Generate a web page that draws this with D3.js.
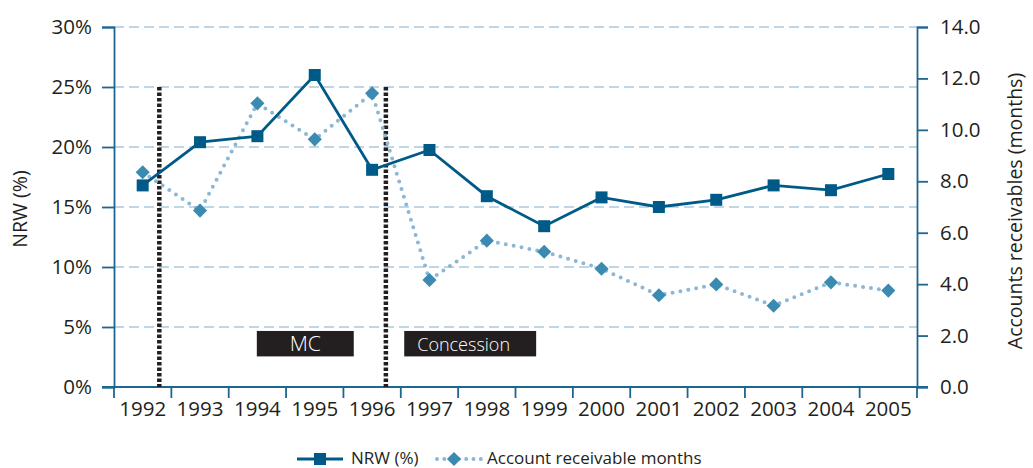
<!DOCTYPE html>
<html><head><meta charset="utf-8">
<script src="https://cdn.jsdelivr.net/npm/d3@7"></script>
<style>body{margin:0;background:#fff}svg{display:block;font-family:"Open Sans",Lato,sans-serif;font-weight:400}</style>
</head><body>
<svg id="c" width="1033" height="468"></svg>
<script>
const years = ["1992","1993","1994","1995","1996","1997","1998","1999","2000","2001","2002","2003","2004","2005"];
const nrw = [16.8,20.4,20.9,26.0,18.1,19.75,15.9,13.4,15.8,15.0,15.6,16.8,16.4,17.75];
const arMonths = [8.35,6.86,11.03,9.63,11.42,4.16,5.69,5.26,4.60,3.57,3.99,3.16,4.07,3.75];
const leftTicks = [0,5,10,15,20,25,30];
const rightTicks = [0,2,4,6,8,10,12,14];
// period separators (in band units from first band start) and their top (NRW %)
const separators = [0.79, 4.74];
const separatorTop = 25;
// period labels: [label, start band, end band, top %, bottom %, anchor]
const periodLabels = [["MC",2.49,4.18,4.67,2.55,"middle"],["Concession",5.06,7.36,4.67,2.55,"start"]];

const svg = d3.select("#c");
const L=114, R=917, T=27, B=387;
const x = d3.scaleBand().domain(years).range([L,R]).padding(0);
const xc = d => x(d)+x.bandwidth()/2;
const xu = u => L + u*x.bandwidth();
const yL = d3.scaleLinear().domain([0,30]).range([B,T]);
const yR = d3.scaleLinear().domain([0,14]).range([B,T]);
const axisCol="#1d6690", txt="#231f20";
const FF = '"Open Sans",Lato,sans-serif';

svg.append("g").selectAll("line").data(leftTicks.filter(d=>d>0)).join("line")
  .attr("x1",L).attr("x2",R).attr("y1",d=>yL(d)).attr("y2",d=>yL(d))
  .attr("stroke","#a9c9dd").attr("stroke-width",1.6).attr("stroke-dasharray","10,5");

const gl = svg.append("g").attr("transform",`translate(${L},0)`)
  .call(d3.axisLeft(yL).tickValues(leftTicks).tickFormat(d=>d+"%").tickSize(12).tickPadding(10));
const gr = svg.append("g").attr("transform",`translate(${R},0)`)
  .call(d3.axisRight(yR).tickValues(rightTicks).tickFormat(d3.format(".1f")).tickSize(11).tickPadding(12));
const gb = svg.append("g").attr("transform",`translate(0,${B})`)
  .call(d3.axisBottom(x).tickSize(0).tickPadding(14));
[gl,gr,gb].forEach(g=>{
  g.select(".domain").attr("stroke",axisCol).attr("stroke-width",1.8);
  g.selectAll(".tick line").attr("stroke",axisCol).attr("stroke-width",1.8);
  g.selectAll("text").attr("fill",txt).style("font-size","20.5px").style("font-family",FF).style("font-weight",400);
});
gb.select(".domain").attr("d",`M${L-12},0H${R+11}`);
svg.append("g").selectAll("line").data(d3.range(years.length+1)).join("line")
  .attr("x1",d=>xu(d)).attr("x2",d=>xu(d)).attr("y1",B).attr("y2",B+11)
  .attr("stroke",axisCol).attr("stroke-width",1.8);

svg.append("text").attr("transform",`translate(27,${(T+B)/2+2}) rotate(-90)`).attr("text-anchor","middle")
  .attr("fill",txt).style("font-size","19.5px").text("NRW (%)");
svg.append("text").attr("transform",`translate(1022,${(T+B)/2+4}) rotate(-90)`).attr("text-anchor","middle")
  .attr("fill",txt).style("font-size","19.5px").text("Accounts receivables (months)");

svg.append("g").selectAll("line").data(separators).join("line")
  .attr("x1",d=>xu(d)).attr("x2",d=>xu(d)).attr("y1",yL(separatorTop)).attr("y2",B)
  .attr("stroke",txt).attr("stroke-width",4.5).attr("stroke-dasharray","3.5,2");

const pl = svg.append("g").selectAll("g").data(periodLabels).join("g");
pl.append("rect").attr("x",d=>xu(d[1])).attr("width",d=>xu(d[2])-xu(d[1]))
  .attr("y",d=>yL(d[3])).attr("height",d=>yL(d[4])-yL(d[3])).attr("fill",txt);
pl.append("text").attr("x",d=>d[5]==="middle"?(xu(d[1])+xu(d[2]))/2:xu(d[1])+13)
  .attr("y",d=>(yL(d[3])+yL(d[4]))/2+7).attr("text-anchor",d=>d[5])
  .attr("fill","#fff").style("font-weight",300).style("font-size",d=>d[5]==="middle"?"21px":"18px").text(d=>d[0]);

const arLine = d3.line().x((d,i)=>xc(years[i])).y(d=>yR(d));
svg.append("path").datum(arMonths).attr("d",arLine).attr("fill","none")
  .attr("stroke","#8db7d4").attr("stroke-width",4).attr("stroke-linecap","round").attr("stroke-dasharray","0,8");
const nLine = d3.line().x((d,i)=>xc(years[i])).y(d=>yL(d));
svg.append("path").datum(nrw).attr("d",nLine).attr("fill","none").attr("stroke","#005a87").attr("stroke-width",2.8);
const diamond = d3.symbol().type(d3.symbolSquare).size(100);
svg.append("g").selectAll("path").data(arMonths).join("path")
  .attr("d",diamond).attr("transform",(d,i)=>`translate(${xc(years[i])},${yR(d)}) rotate(45)`).attr("fill","#3a8ab2");
svg.append("g").selectAll("rect").data(nrw).join("rect")
  .attr("x",(d,i)=>xc(years[i])-6).attr("y",d=>yL(d)-6).attr("width",12).attr("height",12).attr("fill","#005a87");

const ly=459;
const lg = svg.append("g");
lg.append("line").attr("x1",297).attr("x2",343).attr("y1",ly).attr("y2",ly).attr("stroke","#005a87").attr("stroke-width",2.8);
lg.append("rect").attr("x",314).attr("y",ly-6).attr("width",12).attr("height",12).attr("fill","#005a87");
lg.append("text").attr("x",351).attr("y",ly+5).attr("fill",txt).style("font-size","17px").text("NRW (%)");
lg.append("path").attr("d",`M437,${ly}H481`).attr("stroke","#8db7d4").attr("stroke-width",4).attr("stroke-linecap","round").attr("stroke-dasharray","0,7.3");
lg.append("path").attr("d",diamond).attr("transform",`translate(454,${ly}) rotate(45)`).attr("fill","#3a8ab2");
lg.append("text").attr("x",487).attr("y",ly+5).attr("fill",txt).style("font-size","17px").text("Account receivable months");
</script>
</body></html>
